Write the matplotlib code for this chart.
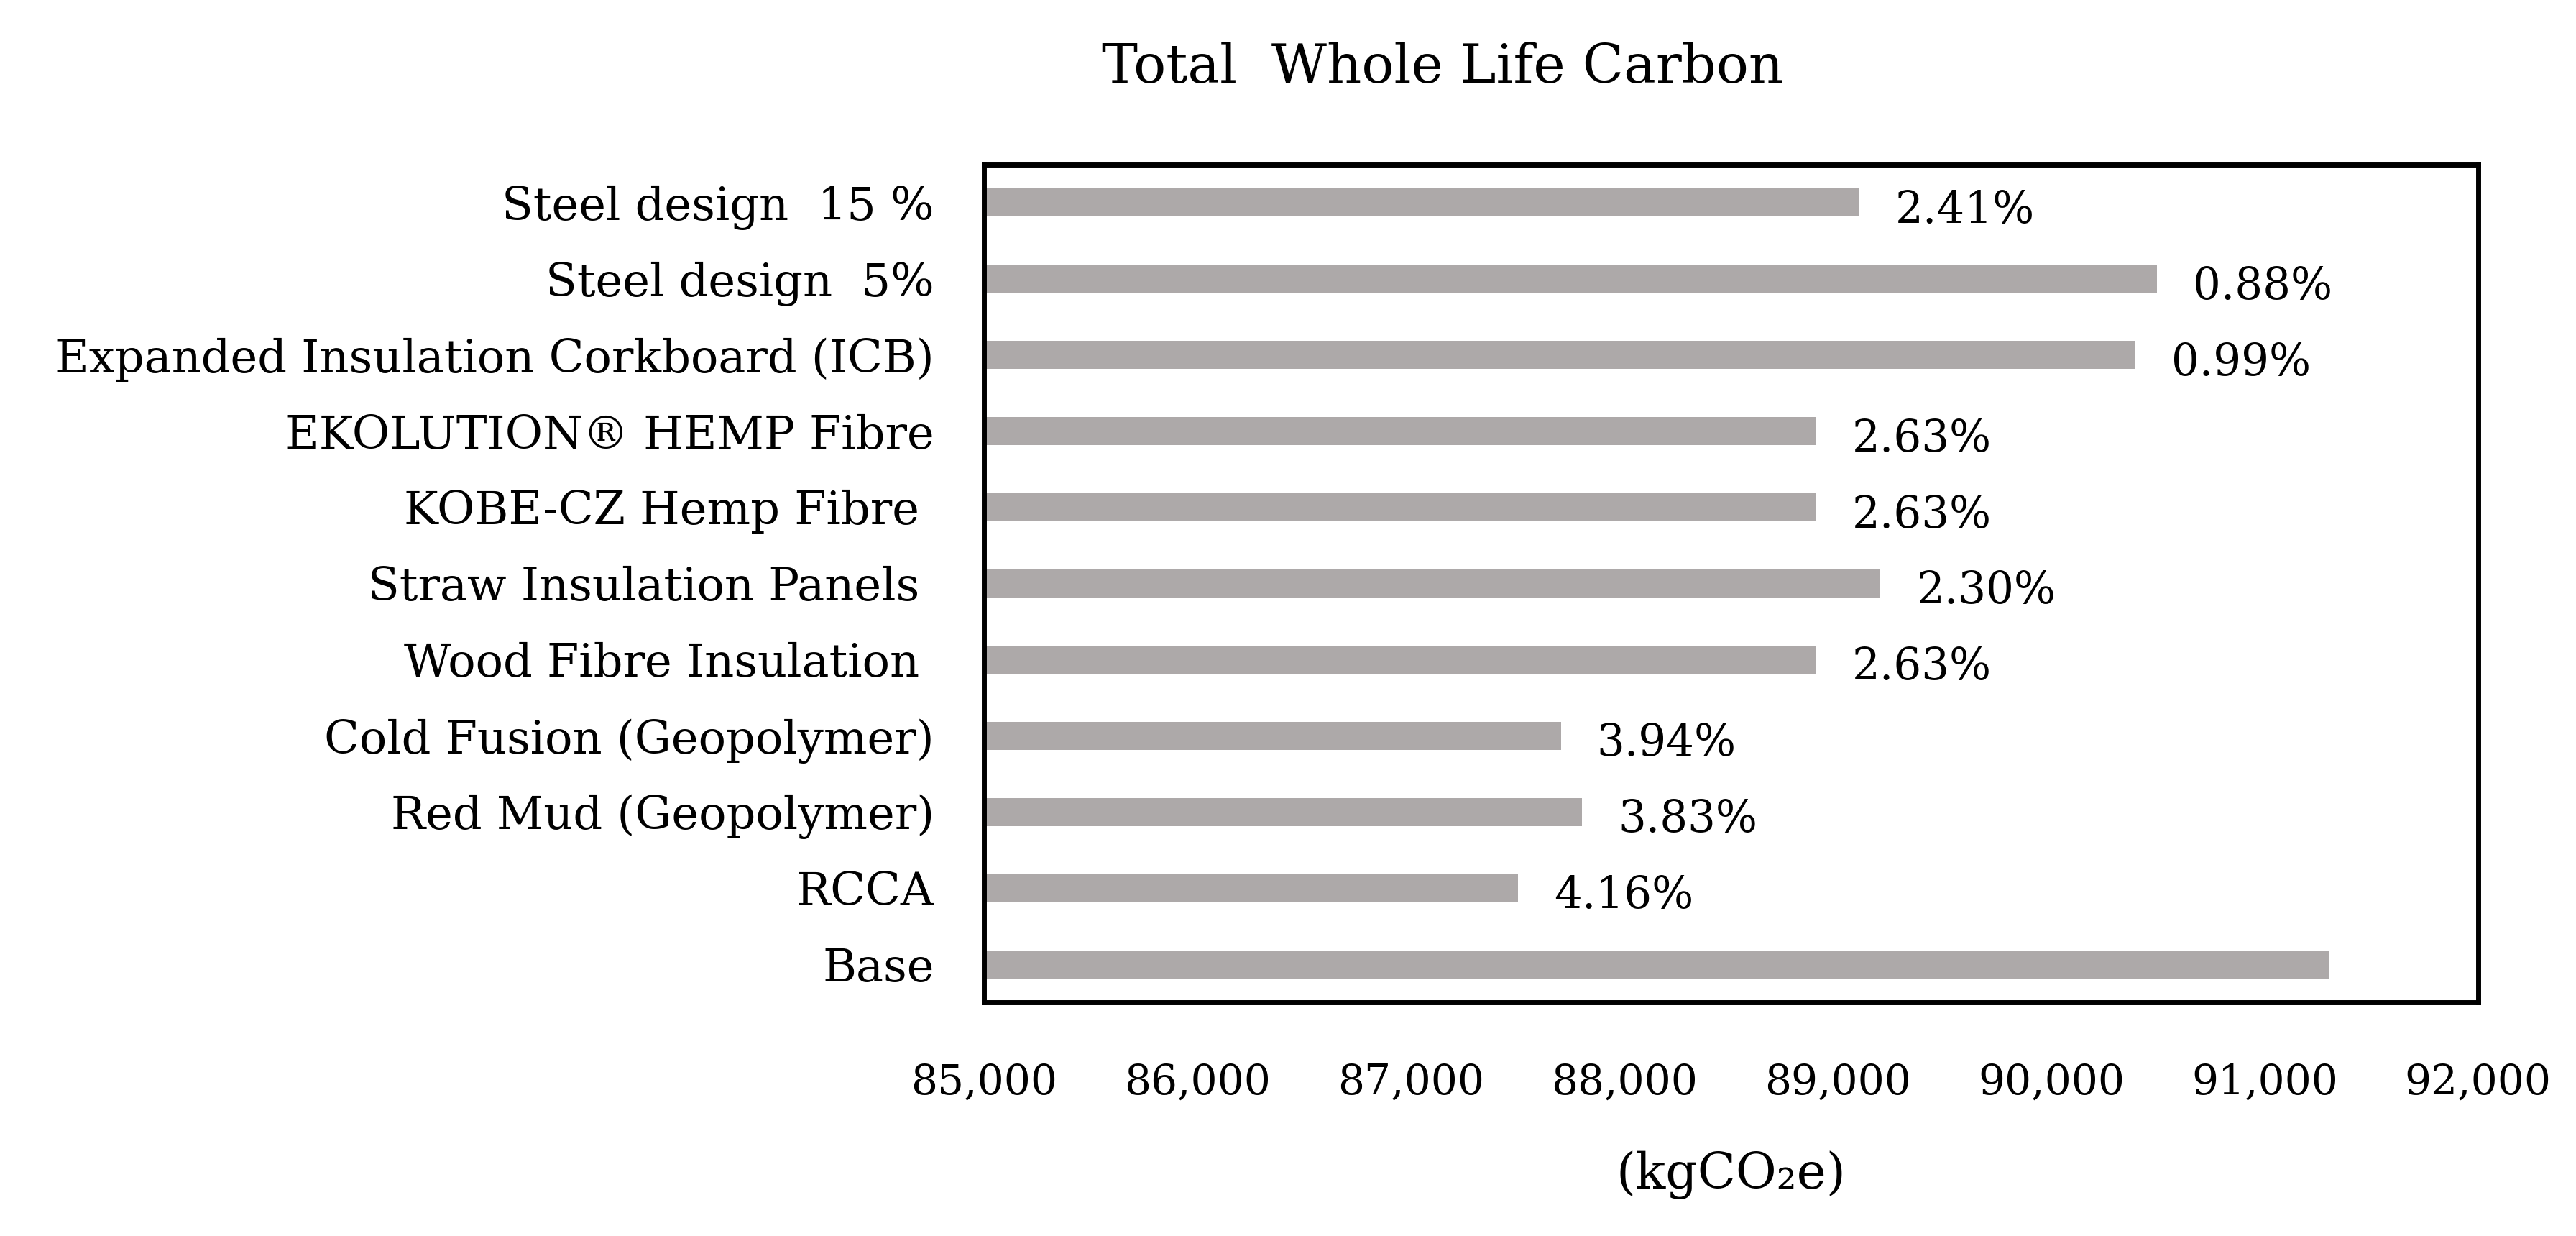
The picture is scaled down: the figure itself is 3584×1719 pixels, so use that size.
import matplotlib
matplotlib.use("Agg")
import matplotlib.pyplot as plt
from matplotlib.ticker import FuncFormatter

categories = ["Base", "RCCA", "Red Mud (Geopolymer)", "Cold Fusion (Geopolymer)",
              "Wood Fibre Insulation ", "Straw Insulation Panels ", "KOBE-CZ Hemp Fibre ",
              "EKOLUTION\u00ae HEMP Fibre", "Expanded Insulation Corkboard (ICB)",
              "Steel design  5%", "Steel design  15 %"]
values = [91300, 87502, 87803, 87703, 88899, 89200, 88899, 88899, 90396, 90497, 89100]
pct_labels = ["", "4.16%", "3.83%", "3.94%", "2.63%", "2.30%", "2.63%", "2.63%",
              "0.99%", "0.88%", "2.41%"]
xticks = [85000, 86000, 87000, 88000, 89000, 90000, 91000, 92000]

plt.rcParams['font.family'] = ['DejaVu Serif']

fig = plt.figure(figsize=(35.84, 17.19), dpi=100)
ax = fig.add_axes([0.382, 0.189, 0.580, 0.678])

ypos = list(range(len(categories)))
ax.barh(ypos, values, height=0.37, color='#ADA9A9', left=0)
for y, v, t in zip(ypos, values, pct_labels):
    if t:
        ax.annotate(t, xy=(v, y), xytext=(36, -8), textcoords='offset points',
                    ha='left', va='center', fontsize=44)

ax.set_xlim(85000, 92000)
ax.set_ylim(-0.5, len(categories) - 0.5)
ax.set_xticks(xticks)
ax.xaxis.set_major_formatter(FuncFormatter(lambda x, p: f"{int(x):,}"))
ax.set_yticks(ypos)
ax.set_yticklabels(categories)
ax.tick_params(axis='y', length=0, pad=50, labelsize=46)
ax.tick_params(axis='x', length=0, pad=60, labelsize=42)
for s in ax.spines.values():
    s.set_linewidth(5)
    s.set_color('black')

ax.set_xlabel("(kgCO\u2082e)", fontsize=50, labelpad=48)
fig.text(0.56, 0.945, "Total  Whole Life Carbon", ha='center', va='center', fontsize=54)

fig.savefig("out.png", dpi=100)
